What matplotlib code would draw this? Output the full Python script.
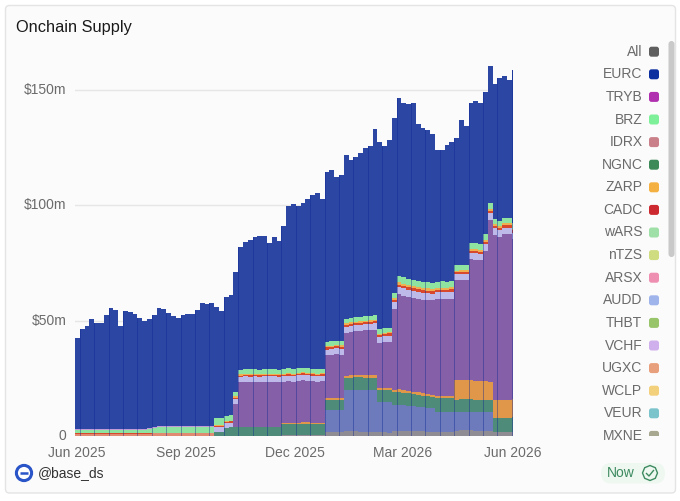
import numpy as np
import pandas as pd
import matplotlib
matplotlib.use("Agg")
import matplotlib.pyplot as plt
import matplotlib.dates as mdates
from matplotlib.patches import FancyBboxPatch, Rectangle, Circle, RegularPolygon
from matplotlib.transforms import ScaledTranslation

plt.rcParams['font.family'] = ['Liberation Sans', 'DejaVu Sans']

dates = pd.date_range('2025-06-01', periods=92, freq='4D')

total = [42.5,46.4,47.7,50.8,49.0,49.0,52.5,55.5,54.7,47.7,54.2,53.8,52.9,51.2,49.9,50.8,52.5,55.5,55.1,53.4,
         52.0,51.2,52.5,52.9,52.9,54.7,57.7,57.3,57.7,56.0,54.2,60.3,61.2,71.1,82.0,84.2,85.0,86.3,86.8,86.8,
         83.7,86.3,84.6,91.0,99.8,100.7,99.8,101.0,102.8,104.6,105.4,102.8,114.5,115.4,112.4,113.2,121.9,119.7,121.0,122.8,
         124.9,125.8,133.2,127.5,125.8,128.4,138.0,146.6,144.5,144.0,144.5,135.4,133.6,132.8,131.0,124.0,124.0,126.2,127.5,129.3,
         137.0,134.5,144.5,145.3,144.5,149.2,160.5,152.7,155.3,156.0,154.4,158.8]

MXNE = [0.2]*43 + [0.4,0.4,0.4,0.4,0.4,0.4,0.4,0.4,0.4,
        1.6,1.7,1.6,1.6,2.0,2.2,2.1,1.9,1.8,1.9,1.8,1.6,1.6,1.5,2.0,2.3,2.3,2.2,2.1,2.0,
        2.0,1.9,1.8,1.8,1.7,1.7,1.9,2.2,2.6,2.7,2.5,2.3,2.2,2.1,2.0,1.9,1.7,1.7,1.7,1.8]
UGXC = [0.6,0.6,0.6,0.6,0.6,0.6,0.7,0.7,0.7,0.7,0.7,0.7,0.7,0.7,0.7,0.8,0.9,1.0,1.0,1.0,
        1.0,1.0,1.0,1.0,1.0,1.0,1.0,1.0,1.0] + [0.0]*63
AUDD = [0.0]*52 + [9.7,9.6,9.7,9.7, 18.0,17.9,18.0,18.2,18.2,18.1,18.2, 13.0,13.1,13.1,
        11.5,11.2,11.0,10.9,10.8,10.6,10.4,10.3,10.2,
        8.6,8.6,8.5,8.5,8.2,8.0,7.9,8.0,8.1,8.2,8.3,8.3] + [0.0]*5
NGNC = [0.0]*29 + [1.5,1.5, 3.4,3.5,3.6, 3.7,3.8,3.7,3.8,3.7,3.7,3.8,3.7,3.7,
        4.6,4.7,4.6,4.7,4.8,4.8,4.7,4.6,4.6, 4.2,4.3,4.3,4.4, 5.2,5.2,5.3,5.4,5.3,5.2,5.3,
        5.3,5.2,5.3, 5.5,5.6,5.5,5.4,5.3,5.2,5.1,5.0,4.9, 6.0,6.0,6.1,6.0,
        5.4,5.4,5.5,5.5,5.4,5.4,5.3,5.3, 6.1,6.0,6.2,6.2,6.3]
ZARP = [0.0]*43 + [0.6,0.7,0.7,0.7,0.7,0.7,0.7,0.7,0.7, 1.0,1.0,1.1,1.0, 1.0,1.0,1.1,1.0,1.1,1.1,1.0,
        0.9,1.0,1.0, 1.1,1.2,1.1,1.1,1.0,1.1,1.1,1.0,1.0, 0.9,0.9,1.0,0.9,
        8.3,8.2,8.2,8.1,8.1,8.0,8.0,7.9, 7.8,7.9,7.8,7.9,7.9]
TRYB = [0.0]*33 + [10.0, 19.4,19.5,19.6,19.5,19.6,19.7,19.5,19.6,19.5,
        17.9,18.0,17.9,18.1,18.2,18.1,18.0,17.9,18.0, 18.5,18.6,18.7,18.6,
        18.6,18.8,19.0,19.1,19.4,19.8,19.9, 19.5,19.8,20.0, 35.2,
        41.3,41.0,40.8,40.7,40.5,40.6,40.8,40.9, 42.0,42.1,42.0,42.2, 43.4,43.5,43.3,
        52.5,52.6,52.4, 56.7, 70.3, 71.6,70.9,71.9,71.9,69.4]
VCHF = [0.0]*29 + [2.2,2.2,2.1,2.1,2.3,
        2.3,2.4,2.3,2.4,2.3,2.3,2.4,2.4,2.3,2.4,2.4,2.3,2.4,2.5,2.4,2.4,2.3,2.4,
        2.5,2.5,2.6,2.5, 2.6,2.7,2.6,2.6,2.7,2.6,2.7, 2.6,2.6,2.7,
        2.8,3.0,3.1,3.0,3.0,3.1,3.0,3.0,3.0,3.0,3.1,3.0,3.0,
        2.6,2.6,2.7,2.7,2.8,2.8,2.9,3.0, 2.7,2.7,2.8,2.7,2.8]
CADC = [0.3,0.3,0.3,0.3,0.3,0.3,0.3,0.3,0.3,0.3,0.3,0.3,0.3,0.3,0.3,0.3,0.3,0.3,0.3,0.3,
        0.3,0.3,0.3,0.3,0.3,0.3,0.3,0.3,0.3, 0.5,0.5,0.5,0.5,0.6,
        0.6,0.6,0.6,0.6,0.6,0.6,0.6,0.6,0.6,0.6,0.6,0.6,0.6,0.6,0.6,0.6,0.6,0.6,
        0.9,0.9,0.9,0.9, 0.9,0.9,0.9,0.9,0.9,0.9,0.9, 0.9,0.9,0.9,
        1.0,1.1,1.1,1.1,1.1,1.1,1.1,1.1,1.1,1.1,1.1,1.1,1.1,
        0.9,0.9,0.9,1.0,1.0,1.0,1.0,1.0, 1.0,1.0,1.0,1.0,1.0]
WCLP = [0.0]*29 + [0.4,0.4,0.4,0.4,0.5,
        0.5,0.5,0.5,0.5,0.5,0.5,0.5,0.5,0.5,0.5,0.5,0.5,0.5,0.5,0.5,0.5,0.5,0.5,
        0.6,0.6,0.6,0.6, 0.6,0.6,0.6,0.6,0.6,0.6,0.6, 0.6,0.6,0.6,
        0.8,1.0,1.0,1.0,1.0,1.0,1.0,1.0,1.0,0.9,0.9,0.9,0.9,
        0.7,0.7,0.7,0.8,0.8,0.8,0.8,0.8, 0.8,0.8,0.8,0.8,0.8]
BRZ = [1.4,1.4,1.4,1.4,1.4,1.4,1.5,1.5,1.5,1.4,1.4,1.4,1.3,1.3,1.5,1.7,1.9,2.2,2.4,2.4,
       2.4,2.4,2.4,2.3,2.3,2.3,2.3,2.2,2.2, 2.9,2.9,2.2,2.2,1.9,
       1.9,2.0,2.0,2.0,1.9,1.9,2.0,1.9,1.9,1.9,2.0,2.0,1.9,2.0,2.0,1.9,1.9,1.9,
       1.8,1.8,1.8,1.8, 1.8,1.9,1.9,1.9,1.9,1.9,1.9, 1.9,1.9,1.9,
       2.3,2.8,2.8,2.8,2.7,2.7,2.7,2.6,2.6,2.6,2.7,2.6,2.6,
       2.3,2.3,2.4,2.5,2.5,2.4,2.4,2.4, 2.3,2.3,2.4,2.3,2.3]
IDRX = [0.5,0.5,0.5,0.5,0.5,0.5,0.5,0.5,0.5,0.5,0.5,0.5,0.5,0.5,0.5,0.5,0.5,0.5,0.5,0.5,
        0.5,0.5,0.5,0.5,0.5,0.5,0.5,0.5,0.5] + [0.0]*63

legend_names = ['All','EURC','TRYB','BRZ','IDRX','NGNC','ZARP','CADC','wARS','nTZS','ARSX','AUDD','THBT','VCHF','UGXC','WCLP','VEUR','MXNE']
legend_colors = ['#5f5f5f','#0b2f9f','#b030b0','#7ef09a','#c98088','#3d8a58','#f5b042','#cc2a30','#9fe0a8','#cfdc80','#ee8eb0','#a0b4ec','#98c46a','#d0b0ec','#e8a07c','#f2d07c','#7cc4cc','#a8a890']

stack = [(MXNE,'#8f8c94'),(UGXC,'#e08a72'),(AUDD,'#6d7bbd'),(NGNC,'#4e8b78'),(ZARP,'#e0974a'),(TRYB,'#8560a8'),
         (VCHF,'#bdb9e8'),(CADC,'#d8482c'),(WCLP,'#eeb050'),(BRZ,'#8fe3a0'),(IDRX,'#c39ad8')]

W, H = 680, 501
fig = plt.figure(figsize=(W/100, H/100), dpi=100, facecolor='white')

bg = fig.add_axes([0, 0, 1, 1], zorder=0)
bg.set_xlim(0, W); bg.set_ylim(H, 0); bg.axis('off')
bg.add_patch(FancyBboxPatch((5.5, 5.5), 670, 487.5, boxstyle='round,pad=0,rounding_size=4',
                            fc='#fbfbfb', ec='#e4e4e4', lw=1))
bg.add_patch(FancyBboxPatch((668.5, 41), 6, 216, boxstyle='round,pad=0,rounding_size=3', fc='#c9c9c9', ec='none'))

ax = fig.add_axes([75/W, 1-436/H, (513-75)/W, (436-60)/H], zorder=1)
ax.patch.set_alpha(0)
tot = np.array(total, dtype=float)
x = mdates.date2num(dates)
bottom = np.zeros(len(tot))
for vals, col in stack:
    v = np.array(vals, dtype=float)
    ax.bar(x, v, width=4.05, bottom=bottom, color=col, lw=0, align='edge', zorder=2)
    bottom += v
EURC = tot - bottom
ax.bar(x, EURC, width=4.05, bottom=bottom, color='#2c47a3', lw=0, align='edge', zorder=2)
ax.bar(x[1::3], tot[1::3], width=0.9, color='#0a2290', alpha=0.4, lw=0, align='edge', zorder=3)

ax.set_xlim(mdates.date2num(pd.Timestamp('2025-06-01')), mdates.date2num(pd.Timestamp('2026-06-01')))
ax.set_ylim(0, (436-60)/2.305)
ax.set_yticks([0, 50, 100, 150])
ax.set_yticklabels(['0', '$50m', '$100m', '$150m'])
ax.set_xticks(mdates.date2num(pd.to_datetime(['2025-06-01','2025-09-01','2025-12-01','2026-03-01','2026-06-01'])))
ax.set_xticklabels(['Jun 2025','Sep 2025','Dec 2025','Mar 2026','Jun 2026'])
ax.tick_params(length=0, labelsize=10, labelcolor='#6b6b6b')
ax.tick_params(axis='y', pad=6)
ax.tick_params(axis='x', pad=7.2)
ax.grid(axis='y', color='#e6e6e6', lw=1, zorder=0)
ax.set_axisbelow(True)
for s in ax.spines.values():
    s.set_visible(False)
lift = ScaledTranslation(0, 1.6/100, fig.dpi_scale_trans)
for lab in ax.get_yticklabels():
    lab.set_transform(lab.get_transform() + lift)
nudge = ScaledTranslation(1.5/100, 0, fig.dpi_scale_trans)
ax.get_xticklabels()[0].set_transform(ax.get_xticklabels()[0].get_transform() + nudge)

ov = fig.add_axes([0, 0, 1, 1], zorder=2)
ov.set_xlim(0, W); ov.set_ylim(H, 0); ov.axis('off'); ov.patch.set_alpha(0)
ov.text(15.5, 27, 'Onchain Supply', fontsize=11.8, color='#1a1a1a', va='center', ha='left')

clip = Rectangle((560, 40), 110, 396, transform=ov.transData)
for k, (name, col) in enumerate(zip(legend_names, legend_colors)):
    yy = 51.7 + k*22.6
    t = ov.text(642.5, yy, name, fontsize=10, color='#6b6b6b', ha='right', va='center')
    t.set_clip_path(clip)
    p = FancyBboxPatch((649, yy-5), 10, 10, boxstyle='round,pad=0,rounding_size=2.5', fc=col, ec='none')
    ov.add_patch(p)
    p.set_clip_path(clip)

ov.add_patch(Circle((24, 473), 7.6, fc='white', ec='#2a55c8', lw=2.2))
ov.plot([20, 28], [473, 473], color='#2a55c8', lw=1.8, solid_capstyle='butt')
ov.text(38, 473, '@base_ds', fontsize=10, color='#333333', ha='left', va='center')

ov.add_patch(FancyBboxPatch((601, 463), 64, 20.5, boxstyle='round,pad=0,rounding_size=10', fc='#eef8f0', ec='none'))
ov.text(607, 473, 'Now', fontsize=10, color='#3d8a60', ha='left', va='center')
ov.add_patch(RegularPolygon((650, 473), 8, radius=7.5, fc='none', ec='#3d8a60', lw=1))
ov.plot([646.5, 649, 653.5], [473.5, 476, 470.5], color='#3d8a60', lw=1)

fig.savefig('out.png', dpi=100)
